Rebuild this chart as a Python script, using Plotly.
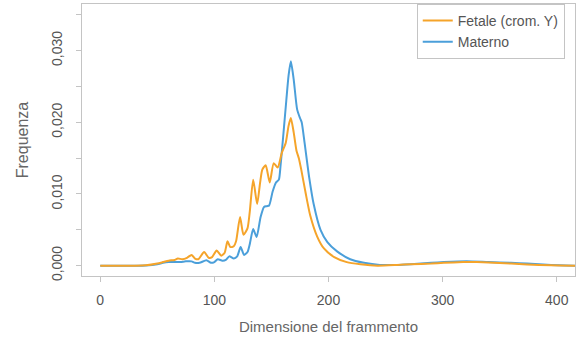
import plotly.graph_objects as go

# Fragment length (bp) and frequency
fetal_x = [0, 10, 20, 30, 40, 50, 55, 60, 65, 68, 72, 76, 80, 83, 86, 91, 95, 98, 102, 106, 109,
           111.5, 114, 117, 119, 122.5, 125.5, 129, 131, 134, 137.5, 140, 142, 145, 148.5, 152,
           155.5, 159, 162.5, 165, 167, 169.5, 172, 174, 176, 180, 184, 190, 196, 205, 216, 228,
           243, 260, 272, 290, 301, 318, 330, 340, 360, 374, 395, 416]
fetal_y = [0, 0, 0, 0, 0.00005, 0.0003, 0.0005, 0.0007, 0.0008, 0.0010, 0.0009, 0.0011, 0.0015,
           0.0010, 0.0009, 0.0019, 0.0011, 0.0012, 0.0021, 0.0014, 0.0018, 0.0034, 0.0026, 0.0027,
           0.0034, 0.0068, 0.0043, 0.0052, 0.0075, 0.0120, 0.0086, 0.0115, 0.0134, 0.0140, 0.0116,
           0.0143, 0.0137, 0.0157, 0.0171, 0.0195, 0.0206, 0.0186, 0.0160, 0.0150, 0.0135, 0.0101,
           0.0070, 0.0041, 0.0024, 0.0012, 0.0005, 0.0002, 0.0000, 0.0001, 0.0002, 0.0003, 0.0004,
           0.0005, 0.0005, 0.00045, 0.0003, 0.00018, 0.00005, 0.0]

maternal_x = [0, 10, 20, 30, 40, 50, 55, 60, 70, 75, 80, 83, 87, 93, 97, 100, 103, 107, 110, 113,
              117, 120, 123, 126, 129, 131, 134, 137, 140.5, 143.5, 146, 148, 151, 154, 156.5, 158,
              160, 163, 165, 167, 169.5, 172.5, 175, 176.5, 179, 183, 187, 193, 199, 207.5, 219,
              231, 245, 260, 272, 290, 301, 321, 340, 360, 374, 395, 416]
maternal_y = [0, 0, 0, 0, 0.00003, 0.0002, 0.0004, 0.0005, 0.0005, 0.0006, 0.0006, 0.0004, 0.0004,
              0.00075, 0.0004, 0.0005, 0.0009, 0.0007, 0.0008, 0.0013, 0.0010, 0.0013, 0.0026,
              0.0015, 0.0019, 0.0030, 0.0051, 0.0040, 0.0068, 0.0082, 0.0083, 0.0084, 0.0103,
              0.0116, 0.0120, 0.0140, 0.0175, 0.0230, 0.0265, 0.0285, 0.0260, 0.0218, 0.0206,
              0.0200, 0.0172, 0.0124, 0.0086, 0.0050, 0.0033, 0.0020, 0.0009, 0.0004, 0.0001,
              0.0001, 0.0002, 0.0004, 0.0005, 0.0006, 0.0005, 0.0004, 0.0003, 0.0001, 0.0]

x_ticks = [0, 100, 200, 300, 400]
y_ticks = [0, 0.005, 0.010, 0.015, 0.020, 0.025, 0.030, 0.035]
y_ticktext = ["0,000", "", "0,010", "", "0,020", "", "0,030", ""]

ORANGE = "#F5A42A"
BLUE = "#4B9FDA"
GRAY_TXT = "#555555"
AXIS = "#C4C4C4"
FONT = "Liberation Sans, Arial, sans-serif"

fig = go.Figure()
fig.add_trace(go.Scatter(x=maternal_x, y=maternal_y, mode="lines", name="Materno",
                         line=dict(color=BLUE, width=2, shape="spline", smoothing=0.6),
                         legendrank=2))
fig.add_trace(go.Scatter(x=fetal_x, y=fetal_y, mode="lines", name="Fetale (crom. Y)",
                         line=dict(color=ORANGE, width=2, shape="spline", smoothing=0.6),
                         legendrank=1))

fig.update_layout(
    width=576, height=345,
    margin=dict(l=82, r=1, t=4, b=69, autoexpand=False),
    paper_bgcolor="white", plot_bgcolor="white",
    font=dict(family=FONT, color=GRAY_TXT, size=14),
    showlegend=True,
    legend=dict(x=0.679, xanchor="left", y=1, yanchor="top",
                bordercolor=AXIS, borderwidth=1, bgcolor="white",
                font=dict(size=14, color=GRAY_TXT), tracegroupgap=0),
)
fig.update_xaxes(range=[-16, 416], tickvals=x_ticks, ticktext=[str(v) for v in x_ticks],
                 showgrid=False, zeroline=False, showline=True, mirror=True,
                 linecolor=AXIS, linewidth=1, ticks="outside", ticklen=5, tickcolor=AXIS,
                 ticklabelstandoff=6, automargin=False,
                 title=dict(text="Dimensione del frammento", font=dict(size=15, color="#666666"),
                            standoff=14))
fig.update_yaxes(range=[-0.00144, 0.0365], tickvals=y_ticks, ticktext=y_ticktext,
                 tickangle=-90,
                 showgrid=False, zeroline=False, showline=True, mirror=True,
                 linecolor=AXIS, linewidth=1, ticks="outside", ticklen=5, tickcolor=AXIS,
                 ticklabelstandoff=8, automargin=False,
                 title=dict(text="Frequenza", font=dict(size=16, color="#666666"),
                            standoff=16))

fig.write_html("out.html",
               config={"displayModeBar": False},
               post_script="document.body.style.margin='0';document.body.style.padding='0';")
